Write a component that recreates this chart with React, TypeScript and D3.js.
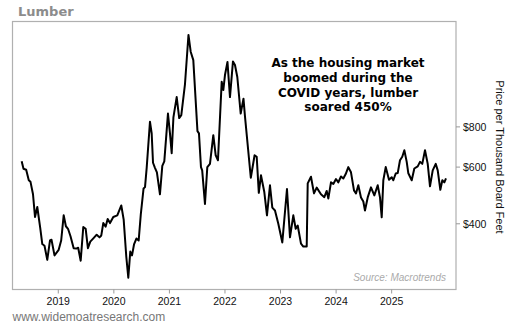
import React from "react";
import * as d3 from "d3";

// decimal years
const dates: number[] = [2018.341,2018.374,2018.422,2018.469,2018.500,2018.545,2018.581,2018.622,2018.676,2018.712,2018.752,2018.802,2018.851,2018.878,2018.932,2019.007,2019.052,2019.097,2019.137,2019.175,2019.220,2019.277,2019.324,2019.358,2019.403,2019.450,2019.493,2019.533,2019.576,2019.635,2019.691,2019.742,2019.774,2019.810,2019.853,2019.889,2019.931,2019.990,2020.062,2020.134,2020.177,2020.224,2020.260,2020.296,2020.327,2020.363,2020.406,2020.447,2020.485,2020.535,2020.561,2020.591,2020.650,2020.681,2020.705,2020.740,2020.775,2020.830,2020.872,2020.908,2020.974,2021.010,2021.041,2021.072,2021.131,2021.176,2021.214,2021.280,2021.343,2021.383,2021.430,2021.505,2021.532,2021.568,2021.590,2021.640,2021.682,2021.730,2021.790,2021.833,2021.874,2021.941,2021.970,2022.000,2022.045,2022.090,2022.144,2022.180,2022.222,2022.283,2022.333,2022.360,2022.465,2022.533,2022.571,2022.609,2022.648,2022.708,2022.756,2022.810,2022.852,2022.900,2022.960,2023.032,2023.116,2023.170,2023.230,2023.273,2023.309,2023.368,2023.410,2023.471,2023.489,2023.548,2023.602,2023.651,2023.728,2023.788,2023.831,2023.860,2023.908,2023.950,2023.998,2024.040,2024.088,2024.130,2024.173,2024.220,2024.268,2024.322,2024.358,2024.400,2024.448,2024.490,2024.520,2024.569,2024.628,2024.688,2024.749,2024.790,2024.821,2024.850,2024.893,2024.952,2025.001,2025.030,2025.073,2025.109,2025.150,2025.191,2025.228,2025.271,2025.300,2025.361,2025.408,2025.469,2025.510,2025.551,2025.600,2025.649,2025.690,2025.739,2025.793,2025.829,2025.876,2025.912,2025.948,2025.978];

// price per thousand board feet (USD)
const prices: number[] = [626,593,589,546,540,494,420,451,387,346,342,309,355,357,319,332,355,425,393,386,366,336,335,337,307,391,386,336,352,361,370,363,368,402,392,414,402,420,425,456,412,316,272,328,319,345,360,355,428,515,520,597,830,763,619,597,578,494,605,625,880,764,663,856,990,852,870,1085,1544,1370,1290,776,764,600,586,461,600,614,754,653,630,1105,1041,1159,1273,990,1278,1246,1143,880,979,862,556,653,646,499,566,502,425,527,449,440,400,350,513,363,425,386,395,347,340,340,534,560,497,518,494,484,506,479,538,532,551,538,561,553,571,600,578,508,497,527,483,469,440,483,519,490,527,483,419,546,600,548,558,546,573,575,630,646,677,623,574,546,594,603,623,614,677,614,523,586,614,586,510,546,538,554];

const yearTicks: number[] = [2019, 2020, 2021, 2022, 2023, 2024, 2025];
const priceTicks: number[] = [400, 600, 800];

const title = "Lumber";
const annotation = ["As the housing market", "boomed during the", "COVID years, lumber", "soared 450%"];
const yAxisTitle = "Price per Thousand Board Feet";
const sourceText = "Source: Macrotrends";
const footer = "www.widemoatresearch.com";

export default function App() {
  const W = 511, H = 325;
  const left = 12.5, right = 456, top = 21.5, bottom = 289.5;
  const x = d3.scaleLinear().domain([2018.176, 2026.158]).range([left, right]);
  const y = d3.scaleLog().domain([250, 1700]).range([bottom, top]);
  const pts = dates.map((d, i) => [d, prices[i]] as [number, number]);
  const line = d3.line<[number, number]>().x(d => x(d[0])).y(d => y(d[1]));
  const sans = "'Liberation Sans', Arial, sans-serif";
  const bold = "'DejaVu Sans', Verdana, sans-serif";
  return (
    <svg width={W} height={H} style={{ position: "absolute", left: 0, top: 0, background: "#fff" }}>
      <text x={18} y={16} fontFamily={bold} fontWeight="bold" fontSize={13} fill="#8c8c8c">{title}</text>
      <rect x={left} y={top} width={right - left} height={bottom - top} fill="none" stroke="#b0b0b0" strokeWidth={1.2} />
      <defs>
        <clipPath id="plot"><rect x={left} y={top} width={right - left} height={bottom - top} /></clipPath>
      </defs>
      <path d={line(pts) || ""} fill="none" stroke="#000" strokeWidth={2} strokeLinejoin="round" clipPath="url(#plot)" />
      {yearTicks.map(t => (
        <g key={t}>
          <line x1={x(t)} x2={x(t)} y1={bottom} y2={bottom + 4} stroke="#999" strokeWidth={1} />
          <text x={x(t)} y={305} textAnchor="middle" fontFamily={sans} fontSize={10.5} fill="#111">{t}</text>
        </g>
      ))}
      {priceTicks.map(p => (
        <g key={p}>
          <line x1={right} x2={right + 4} y1={y(p)} y2={y(p)} stroke="#999" strokeWidth={1} />
          <text x={463} y={y(p) + 3.8} fontFamily={sans} fontSize={10.5} fill="#111">{"$" + p}</text>
        </g>
      ))}
      <text transform="translate(495.5,157) rotate(90)" textAnchor="middle" fontFamily={sans} fontSize={11} fill="#111">{yAxisTitle}</text>
      {annotation.map((s, i) => (
        <text key={i} x={348} y={67.3 + i * 14.6} textAnchor="middle" fontFamily={bold} fontWeight="bold" fontSize={12} fill="#000">{s}</text>
      ))}
      <text x={446} y={281} textAnchor="end" fontFamily={sans} fontStyle="italic" fontSize={10} fill="#aaa">{sourceText}</text>
      <text x={12.5} y={320.5} fontFamily={sans} fontSize={12} fill="#777">{footer}</text>
    </svg>
  );
}
